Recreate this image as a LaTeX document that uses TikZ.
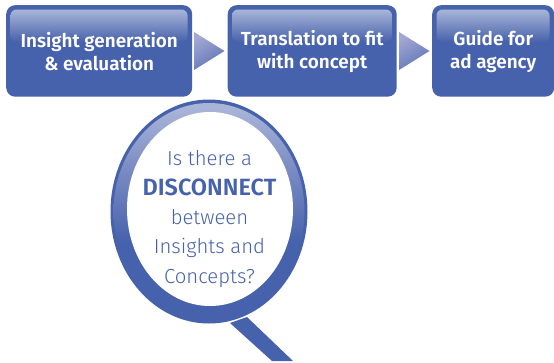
\documentclass[tikz,border=0pt]{standalone}
\usepackage{fontspec}
\setmainfont{Fira Sans}[UprightFont=* Light,BoldFont=* SemiBold]
\usetikzlibrary{shapes.geometric}
\definecolor{qblue}{HTML}{4762AC}
\definecolor{qlight}{HTML}{A9B5D8}
\definecolor{qmid}{HTML}{7B8CC4}
\definecolor{qarrowa}{HTML}{A3A8D4}
\definecolor{qarrowb}{HTML}{5F74B6}
\pgfdeclareverticalshading{ringshade}{100bp}{color(0bp)=(qblue); color(43bp)=(qblue); color(60bp)=(qmid); color(74bp)=(qlight); color(100bp)=(qlight)}
\pgfdeclareverticalshading{shineshade}{100bp}{color(0bp)=(qblue); color(25bp)=(qblue); color(75bp)=(qlight); color(100bp)=(qlight)}
\tikzset{
  flowbox/.style={draw=none, fill=qblue, rounded corners=9pt, anchor=north west, inner sep=0pt, minimum height=91.5pt},
  flowshine/.style={shading=shineshade, rounded corners=6pt},
  flowlabel/.style={text=white, align=center, font=\fontsize{18.9}{23}\selectfont\bfseries, yshift=-1pt},
  flowarrow/.style={top color=qarrowa, bottom color=qarrowb, shading angle=30, draw=none},
  querytext/.style={text=qblue, align=center, font=\fontsize{20.3}{29.3}\selectfont}
}
\begin{document}
\begin{tikzpicture}[x=1pt,y=-1pt]
\useasboundingbox (0,0) rectangle (554,362);
\fill[white] (0,0) rectangle (554,362);
% flow
\node[flowbox, minimum width=186pt] (b1) at (6,5) {};
\node[flowbox, minimum width=169pt] (b2) at (227.5,5) {};
\node[flowbox, minimum width=122pt] (b3) at (432,5) {};
\shade[flowshine] (10.5,9.5) rectangle (187.5,42);
\shade[flowshine] (232,9.5) rectangle (392,42);
\shade[flowshine] (436.5,9.5) rectangle (549.5,42);
\node[flowlabel] (t1) at (b1.center) {Insight generation\\\& evaluation};
\node[flowlabel] (t2) at (b2.center) {Translation to fit\\with concept};
\node[flowlabel] (t3) at (b3.center) {Guide for\\ad agency};
\coordinate (a1t) at (194,32); \coordinate (a1b) at (194,70); \coordinate (a1p) at (224.5,51);
\coordinate (a2t) at (399,32); \coordinate (a2b) at (399,70); \coordinate (a2p) at (429.5,51);
\path[flowarrow] (a1t) -- (a1p) -- (a1b) -- cycle;
\path[flowarrow] (a2t) -- (a2p) -- (a2b) -- cycle;
% magnifier
\coordinate (qc) at (209,211.5);
\fill[qblue] (230,323) -- (247,317) -- (293,361) -- (272,361) -- cycle;
\fill[qblue] (qc) ellipse [x radius=98.5pt, y radius=112pt];
\shade[shading=ringshade] (qc) ellipse [x radius=95.5pt, y radius=108.5pt];
\fill[white] (210,209) ellipse [x radius=83pt, y radius=97pt];
\node[querytext] (q) at (209.5,219) {Is there a\\{\fontsize{23.5}{29.3}\selectfont\bfseries DISCONNECT}\\between\\Insights and\\Concepts?};
\end{tikzpicture}
\end{document}
